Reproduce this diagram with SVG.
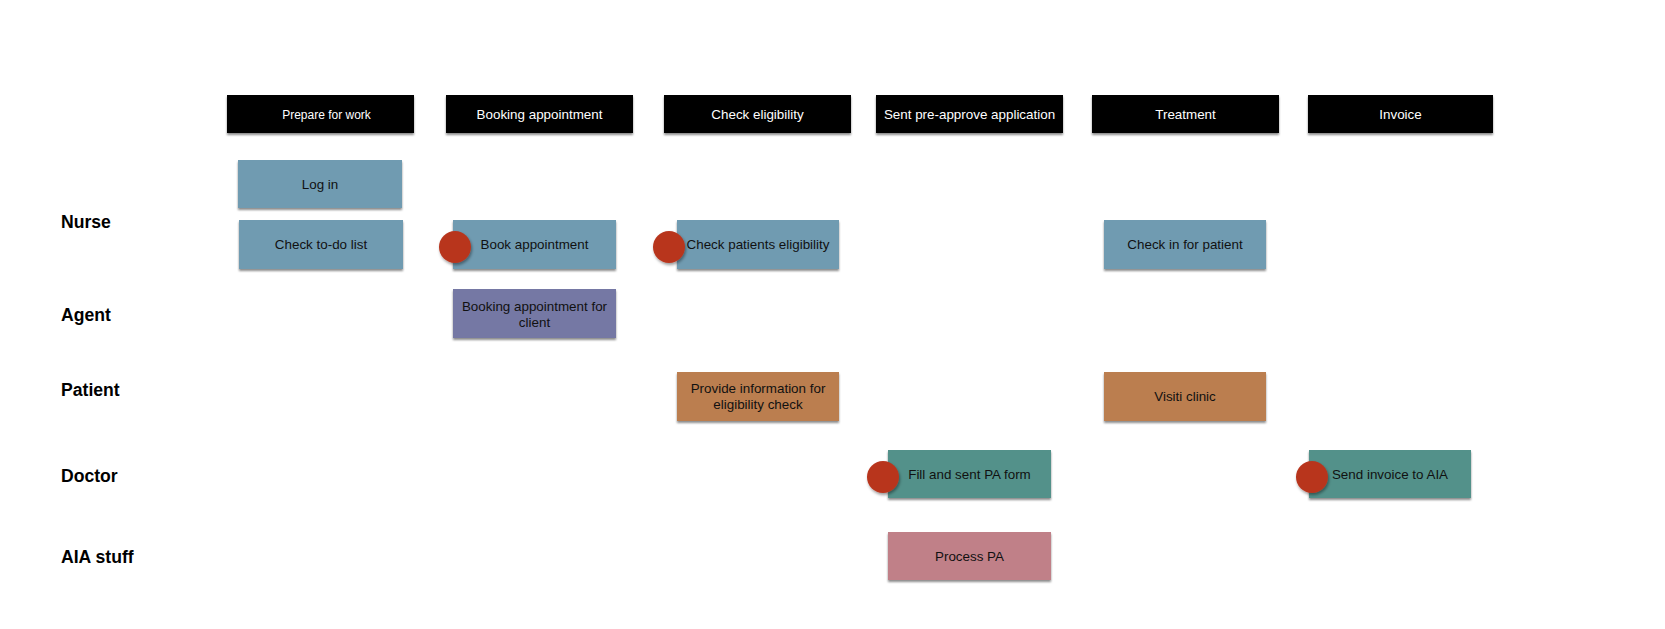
<svg xmlns="http://www.w3.org/2000/svg" width="1665" height="629" viewBox="0 0 1665 629">
<defs>
<filter id="sh" x="-10%" y="-20%" width="120%" height="150%">
<feDropShadow dx="0" dy="2" stdDeviation="1.2" flood-color="#000" flood-opacity="0.45"/>
</filter>
<filter id="shc" x="-30%" y="-30%" width="160%" height="170%">
<feDropShadow dx="1" dy="2" stdDeviation="1.5" flood-color="#000" flood-opacity="0.4"/>
</filter>
</defs>
<style>
.hdr{fill:#000}
.ht{fill:#fff;font-family:"Liberation Sans",Arial,sans-serif;font-size:13.4px;text-anchor:middle}
.nt{fill:#111;font-family:"Liberation Sans",Arial,sans-serif;font-size:13.4px;text-anchor:middle}
.lane{fill:#000;font-family:"Liberation Sans",Arial,sans-serif;font-size:17.6px;font-weight:bold}
.nurse{fill:#6f9bb1}
.agent{fill:#7578a4}
.patient{fill:#bb7e4f}
.doctor{fill:#53918a}
.aia{fill:#c08088}
.dot{fill:#b8361f}
</style>
<rect width="1665" height="629" fill="#fff"/>

<g id="lanes">
<text class="lane" x="61" y="228">Nurse</text>
<text class="lane" x="61" y="321">Agent</text>
<text class="lane" x="61" y="396">Patient</text>
<text class="lane" x="61" y="482">Doctor</text>
<text class="lane" x="61" y="563">AIA stuff</text>
</g>

<g id="headers">
<g id="h-prepare"><rect class="hdr" x="227" y="95" width="187" height="38" filter="url(#sh)"/><text class="ht" x="326.5" y="118.5" style="font-size:12px">Prepare for work</text></g>
<g id="h-booking"><rect class="hdr" x="446" y="95" width="187" height="38" filter="url(#sh)"/><text class="ht" x="539.5" y="119">Booking appointment</text></g>
<g id="h-check"><rect class="hdr" x="664" y="95" width="187" height="38" filter="url(#sh)"/><text class="ht" x="757.5" y="119">Check eligibility</text></g>
<g id="h-sent"><rect class="hdr" x="876" y="95" width="187" height="38" filter="url(#sh)"/><text class="ht" x="969.5" y="119">Sent pre-approve application</text></g>
<g id="h-treatment"><rect class="hdr" x="1092" y="95" width="187" height="38" filter="url(#sh)"/><text class="ht" x="1185.5" y="119">Treatment</text></g>
<g id="h-invoice"><rect class="hdr" x="1308" y="95" width="185" height="38" filter="url(#sh)"/><text class="ht" x="1400.5" y="119">Invoice</text></g>
</g>

<g id="connectors"></g>

<g id="n-login"><rect class="nurse" x="238" y="160" width="164" height="48" filter="url(#sh)"/><text class="nt" x="320" y="188.8">Log in</text></g>
<g id="n-todo"><rect class="nurse" x="239" y="220" width="164" height="49" filter="url(#sh)"/><text class="nt" x="321" y="249.3">Check to-do list</text></g>
<g id="n-book"><rect class="nurse" x="453" y="220" width="163" height="49" filter="url(#sh)"/><circle class="dot" cx="455" cy="247" r="16" filter="url(#shc)"/><text class="nt" x="534.5" y="249.3">Book appointment</text></g>
<g id="n-checkpat"><rect class="nurse" x="677" y="220" width="162" height="49" filter="url(#sh)"/><circle class="dot" cx="669" cy="247" r="16" filter="url(#shc)"/><text class="nt" x="758" y="249.3">Check patients eligibility</text></g>
<g id="n-checkin"><rect class="nurse" x="1104" y="220" width="162" height="49" filter="url(#sh)"/><text class="nt" x="1185" y="249.3">Check in for patient</text></g>

<g id="n-agentbook"><rect class="agent" x="453" y="289" width="163" height="49" filter="url(#sh)"/><text class="nt" x="534.5" y="310.5">Booking appointment for</text><text class="nt" x="534.5" y="326.5">client</text></g>

<g id="n-provide"><rect class="patient" x="677" y="372" width="162" height="49" filter="url(#sh)"/><text class="nt" x="758" y="393">Provide information for</text><text class="nt" x="758" y="409">eligibility check</text></g>
<g id="n-visit"><rect class="patient" x="1104" y="372" width="162" height="49" filter="url(#sh)"/><text class="nt" x="1185" y="401.3">Visiti clinic</text></g>

<g id="n-fillpa"><rect class="doctor" x="888" y="450" width="163" height="48" filter="url(#sh)"/><circle class="dot" cx="883" cy="477" r="16" filter="url(#shc)"/><text class="nt" x="969.5" y="478.8">Fill and sent PA form</text></g>
<g id="n-invoice"><rect class="doctor" x="1309" y="450" width="162" height="48" filter="url(#sh)"/><circle class="dot" cx="1312" cy="477" r="16" filter="url(#shc)"/><text class="nt" x="1390" y="478.8">Send invoice to AIA</text></g>

<g id="n-process"><rect class="aia" x="888" y="532" width="163" height="48" filter="url(#sh)"/><text class="nt" x="969.5" y="560.8">Process PA</text></g>
</svg>
